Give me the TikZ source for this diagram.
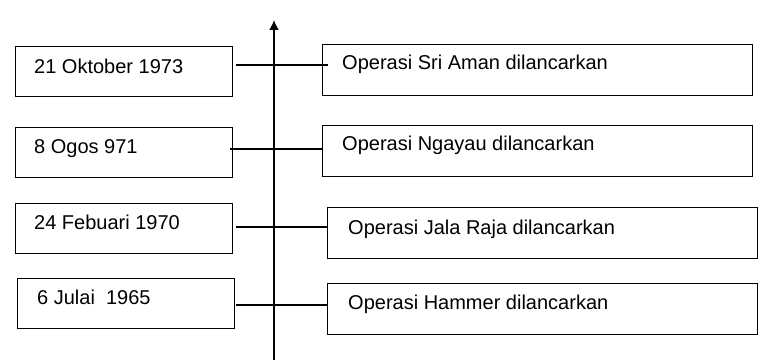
\documentclass[tikz,border=0pt]{standalone}
\usepackage{fontspec}
\setmainfont{Liberation Sans}
\usetikzlibrary{arrows.meta,calc}
\begin{document}
\begin{tikzpicture}[x=1pt,y=-1pt,
  box/.style={draw=black,line width=1pt,rectangle,inner sep=0pt,anchor=north west},
  lbox/.style={box,minimum width=217pt,minimum height=50pt},
  rbox/.style={box,minimum width=430pt,minimum height=51pt},
  lbl/.style={inner sep=0pt,anchor=base west,font=\fontsize{20}{24}\selectfont},
  conn/.style={line width=1.3pt},
  axis/.style={line width=1.6pt,-{Latex[length=10pt,width=10pt]}}]
\useasboundingbox (0,0) rectangle (769,363);
% axis
\coordinate (axb) at (274,360);
\coordinate (axt) at (274,20);
\draw[axis] (axb) -- (axt);
% left boxes
\node[lbox] (L1) at (15,46) {};
\node[lbox] (L2) at (15,127) {};
\node[lbox] (L3) at (15,203) {};
\node[lbox] (L4) at (17,278) {};
\node[lbl] (tl1) at (34,74) {21 Oktober 1973};
\node[lbl] (tl2) at (34,154) {8 Ogos 971};
\node[lbl] (tl3) at (34,230) {24 Febuari 1970};
\node[lbl] (tl4) at (37,305) {6 Julai\ \ 1965};
% right boxes
\node[rbox] (R1) at (322,44) {};
\node[rbox] (R2) at (322,125) {};
\node[rbox] (R3) at (327,207) {};
\node[rbox] (R4) at (327,283) {};
\node[lbl] (tr1) at (342,70) {Operasi Sri Aman dilancarkan};
\node[lbl] (tr2) at (342,150.5) {Operasi Ngayau dilancarkan};
\node[lbl] (tr3) at (348,235) {Operasi Jala Raja dilancarkan};
\node[lbl] (tr4) at (348,310) {Operasi Hammer dilancarkan};
% connector levels
\coordinate (y1) at (0,65);
\coordinate (y2) at (0,149);
\coordinate (y3) at (0,227);
\coordinate (y4) at (0,305);
\draw[conn] ($(L1.east |- y1)+(3,0)$) -- ($(R1.west |- y1)+(6,0)$);
\draw[conn] ($(L2.east |- y2)+(-3,0)$) -- (R2.west |- y2);
\draw[conn] ($(L3.east |- y3)+(3,0)$) -- (R3.west |- y3);
\draw[conn] ($(L4.east |- y4)+(1,0)$) -- (R4.west |- y4);
\end{tikzpicture}
\end{document}
